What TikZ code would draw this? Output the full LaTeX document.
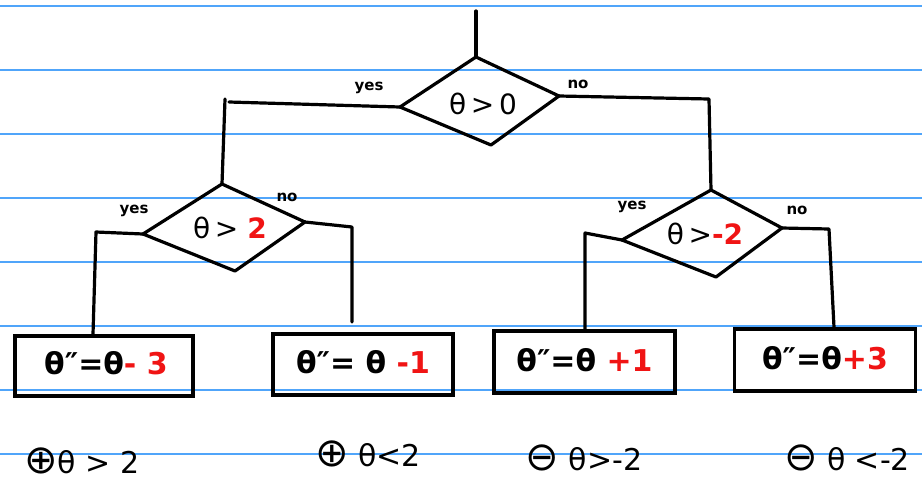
\documentclass[tikz,border=0pt]{standalone}
\usepackage{fontspec}
\setmainfont{DejaVu Sans}
\definecolor{ruled}{RGB}{80,165,250}
\definecolor{hred}{RGB}{240,20,20}
\newcommand{\bigsym}[1]{{\fontsize{40}{40}\selectfont #1}}
\begin{document}
\begin{tikzpicture}[x=1pt,y=-1pt,
  ink/.style={line width=3.2pt,line join=round,line cap=round},
  resbox/.style={draw,line width=3.6pt,inner sep=0pt},
  cond/.style={font=\fontsize{28}{32}\selectfont},
  eqn/.style={font=\fontsize{30}{34}\selectfont\bfseries},
  tag/.style={font=\fontsize{15}{17}\selectfont\bfseries},
  note/.style={font=\fontsize{30}{32}\selectfont}]
\useasboundingbox (0,0) rectangle (922,483);
\fill[white] (0,0) rectangle (922,483);
% ruled paper
\foreach \yy in {6,70,134,198,262,326,390,454}
  \draw[ruled,line width=1.6pt] (0,\yy) -- (922,\yy);

% top diamond
\coordinate (start) at (476,11);
\coordinate (dAt) at (476,57);
\coordinate (dAr) at (559,96);
\coordinate (dAb) at (491,145);
\coordinate (dAl) at (400,107);
\draw[ink] (dAt) -- (dAr) -- (dAb) -- (dAl) -- cycle;
\node[cond] (tA) at (483,104) {θ\,>\,0};
\draw[ink] (start) -- (dAt);

% left diamond
\coordinate (dBt) at (222,184);
\coordinate (dBr) at (305,222);
\coordinate (dBb) at (235,271);
\coordinate (dBl) at (143,234);
\draw[ink] (dBt) -- (dBr) -- (dBb) -- (dBl) -- cycle;
\node[cond] (tB) at (230,228) {θ\,> \textcolor{hred}{\bfseries 2}};

% right diamond
\coordinate (dCt) at (711,190);
\coordinate (dCr) at (782,228);
\coordinate (dCb) at (716,277);
\coordinate (dCl) at (622,240);
\draw[ink] (dCt) -- (dCr) -- (dCb) -- (dCl) -- cycle;
\node[cond] (tC) at (705,234) {θ\,>\textcolor{hred}{\bfseries -2}};

% connectors from top diamond
\coordinate (kAy) at (229,102);
\coordinate (kAy2) at (225,99);
\coordinate (kAn) at (709,99);
\draw[ink] (dAl) -- (kAy);
\draw[ink] (kAy2) -- (dBt);
\draw[ink] (dAr) -- (kAn) -- (dCt);
\node[tag] (yA) at (369,88) {yes};
\node[tag] (nA) at (578,84) {no};

% boxes
\node[resbox,minimum width=178pt,minimum height=60pt] (b1) at (104,366) {};
\node[eqn] (e1) at (106,363) {θ″=θ\textcolor{hred}{- 3}};
\node[resbox,minimum width=180pt,minimum height=61pt] (b2) at (363,364.5) {};
\node[eqn] (e2) at (363,362) {θ″= θ \textcolor{hred}{-1}};
\node[resbox,minimum width=181pt,minimum height=62pt] (b3) at (584.5,362) {};
\node[eqn] (e3) at (584.5,360) {θ″=θ \textcolor{hred}{+1}};
\node[resbox,minimum width=181pt,minimum height=62pt] (b4) at (825,360) {};
\node[eqn] (e4) at (825,358) {θ″=θ\textcolor{hred}{+3}};

% connectors from left diamond
\coordinate (kBy) at (96,232);
\coordinate (kBn) at (352,227);
\coordinate (kBn2) at (352,322);
\draw[ink] (dBl) -- (kBy) -- (b1.north -| 93,0);
\draw[ink] (dBr) -- (kBn) -- (kBn2);
\node[tag] (yB) at (134,211) {yes};
\node[tag] (nB) at (287,197) {no};

% connectors from right diamond
\coordinate (kCy) at (585,233);
\coordinate (kCn) at (829,229);
\draw[ink] (dCl) -- (kCy) -- (b3.north -| 585,0);
\draw[ink] (dCr) -- (kCn) -- (b4.north -| 834,0);
\node[tag] (yC) at (632,207) {yes};
\node[tag] (nC) at (797,210) {no};

% bottom notes
\node[note] (m1) at (82,461) {\bigsym{⊕}θ > 2};
\node[note] (m2) at (368,454) {\bigsym{⊕} θ<2};
\node[note] (m3) at (584,458) {\bigsym{⊖} θ>-2};
\node[note] (m4) at (847,458) {\bigsym{⊖} θ <-2};
\end{tikzpicture}
\end{document}
